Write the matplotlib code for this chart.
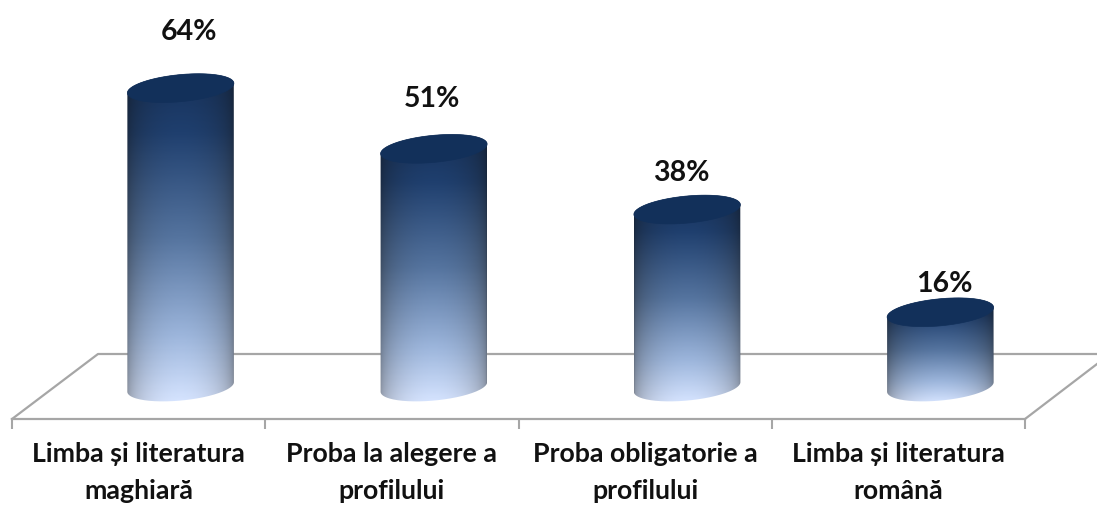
import numpy as np
import matplotlib
matplotlib.use("Agg")
import matplotlib.pyplot as plt
from matplotlib.patches import PathPatch, Polygon
from matplotlib.path import Path
from matplotlib.colors import LinearSegmentedColormap

categories = ["Limba și literatura\nmaghiară", "Proba la alegere a\nprofilului",
              "Proba obligatorie a\nprofilului", "Limba și literatura\nromână"]
values = [64, 51, 38, 16]
value_labels = ["64%", "51%", "38%", "16%"]

W, H = 1097, 506
AX_L, AX_R, AX_B = 12, 1025, 420
PX_PER_VAL = 4.67
BASE_PX = 388
PX_PER_CAT = (AX_R - AX_L) / 4
BAR_SHIFT = 42 / PX_PER_CAT            # 3D offset of the bars from the axis cell centres
HALF_W = 53.5 / PX_PER_CAT
SEMI_MINOR = 13.5
TILT = np.radians(5.5)
GREY = "#a6a6a6"
LABEL_DY_PX = [57, 51, 38, 29]
LABEL_DX_PX = [8, -2, -6, 4]

plt.rcParams["font.family"] = ["Lato", "Open Sans", "DejaVu Sans"]
fig = plt.figure(figsize=(W / 100, H / 100), dpi=100)
ax = fig.add_axes([AX_L / W, 1 - AX_B / H, (AX_R - AX_L) / W, AX_B / H])
ax.set_xlim(-0.5, 3.5)
ax.set_ylim((BASE_PX - AX_B) / PX_PER_VAL, BASE_PX / PX_PER_VAL)
for s in ("top", "left", "right"):
    ax.spines[s].set_visible(False)
ax.spines["bottom"].set_color(GREY)
ax.spines["bottom"].set_linewidth(1.6)
ax.set_yticks([])
ax.set_xticks(np.arange(-0.5, 4, 1))
ax.set_xticklabels([])
ax.tick_params(axis="x", which="major", length=7, width=1.5, color=GREY)
ax.set_xticks(range(4), minor=True)
ax.set_xticklabels(categories, minor=True, fontsize=19.3, fontweight="bold",
                   color="#111111", linespacing=1.62)
ax.tick_params(axis="x", which="minor", length=0, pad=16)

# floor of the 3D plot, in axes fractions
def fx(px): return (px - AX_L) / (AX_R - AX_L)
def fy(px): return (AX_B - px) / AX_B
floor = [[(12, 420), (98, 355), (1097, 355)], [(1025, 420), (1097, 365)]]
for seg in floor:
    ax.plot([fx(p[0]) for p in seg], [fy(p[1]) for p in seg], color=GREY, lw=1.6,
            transform=ax.transAxes, clip_on=False, zorder=1)

def ellipse(cx, v, a, b):
    """Part of a tilted ellipse outline in data coordinates."""
    t = np.linspace(a, b, 80)
    dx = 53.5 * np.cos(t)
    dy = SEMI_MINOR * np.sin(t)
    xp = dx * np.cos(TILT) - dy * np.sin(TILT)
    yp = dx * np.sin(TILT) + dy * np.cos(TILT)
    return np.column_stack([cx + xp / PX_PER_CAT, v + yp / PX_PER_VAL])

stops = [(0, "#16315a"), (0.18, "#1f3f6e"), (0.5, "#55749f"), (0.8, "#9db6dc"), (1, "#d6e4ff")]
cmap = LinearSegmentedColormap.from_list("cyl", stops)

for i, v in enumerate(values):
    cx = i + BAR_SHIFT
    lower = ellipse(cx, 0, np.pi, 2 * np.pi)
    upper = ellipse(cx, v, 0, np.pi)
    outline = np.vstack([lower, upper, lower[:1]])
    path = Path(outline, closed=False)
    ymin = -16 / PX_PER_VAL
    ymax = v + 16 / PX_PER_VAL
    ny, nx = 300, 120
    ty = np.linspace(0, 1, ny)[:, None]
    sx = np.linspace(-1, 1, nx)[None, :]
    rgb = cmap(ty)[..., :3] * np.ones((ny, nx, 1))
    shade = (0.62 + 0.38 * np.sqrt(np.clip(1 - sx**2, 0, 1)))
    gray = rgb.mean(axis=2, keepdims=True)
    img = (rgb * 0.75 + gray * 0.25 * (1 - shade[..., None]) / 0.38 +
           rgb * 0.25 * (shade[..., None] - 0.62) / 0.38) * shade[..., None]
    im = ax.imshow(np.clip(img, 0, 1), extent=(cx - HALF_W, cx + HALF_W, ymin, ymax),
                   origin="upper", aspect="auto", interpolation="bilinear", zorder=3)
    clip = PathPatch(path, transform=ax.transData, fc="none", ec="none")
    ax.add_patch(clip)
    im.set_clip_path(clip)
    ax.add_patch(Polygon(ellipse(cx, v, 0, 2 * np.pi), closed=True, fc="#12305a",
                         ec="#12305a", lw=0.5, zorder=4))
    ax.annotate(value_labels[i], (cx, v), xytext=(LABEL_DX_PX[i] * 0.72, LABEL_DY_PX[i] * 0.72),
                textcoords="offset points", ha="center", va="center", fontsize=20.5,
                fontweight="bold", color="#111111", annotation_clip=False, zorder=5)

ax.set_xlim(-0.5, 3.5)
ax.set_ylim((BASE_PX - AX_B) / PX_PER_VAL, BASE_PX / PX_PER_VAL)
fig.savefig("out.png", dpi=100, facecolor="white")
